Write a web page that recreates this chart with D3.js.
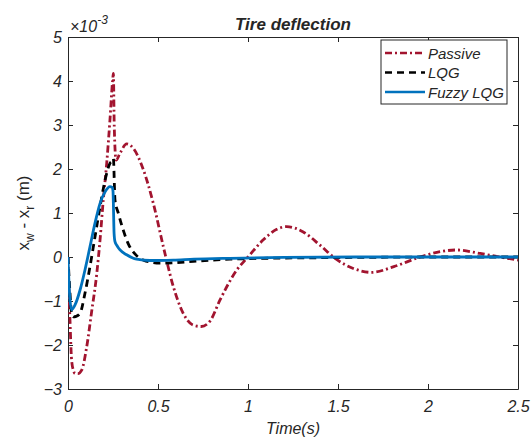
<!DOCTYPE html>
<html>
<head>
<meta charset="utf-8">
<script src="https://cdn.jsdelivr.net/npm/d3@7"></script>
<style>
  body { margin: 0; background: #fff; }
  text { font-family: "Liberation Sans", Arial, sans-serif; fill: #262626; }
</style>
</head>
<body>
<script>
// time axis (s) and deflection values (x 1e-3 m)
var passiveT = [0, 0.005, 0.011, 0.02, 0.03, 0.04, 0.055, 0.076, 0.104, 0.13, 0.16, 0.178, 0.196, 0.215, 0.233, 0.248, 0.252, 0.257, 0.267, 0.289, 0.326, 0.363, 0.419, 0.474, 0.53, 0.585, 0.64, 0.696, 0.74, 0.79, 0.844, 0.937, 1.0, 1.085, 1.16, 1.215, 1.307, 1.4, 1.49, 1.585, 1.687, 1.81, 1.956, 2.067, 2.159, 2.29, 2.4, 2.5];
var passiveV = [0, -0.7, -1.43, -2.34, -2.58, -2.65, -2.65, -2.57, -2.04, -1.28, -0.37, 0.39, 1.3, 2.13, 3.11, 4.02, 4.17, 2.96, 2.2, 2.36, 2.57, 2.47, 1.98, 1.22, 0.23, -0.67, -1.28, -1.55, -1.58, -1.45, -0.98, -0.3, 0, 0.39, 0.63, 0.69, 0.57, 0.27, -0.05, -0.26, -0.35, -0.22, 0, 0.12, 0.16, 0.08, 0, -0.07];

var lqgT = [0, 0.01, 0.02, 0.03, 0.045, 0.067, 0.094, 0.122, 0.15, 0.178, 0.206, 0.233, 0.248, 0.252, 0.261, 0.28, 0.307, 0.335, 0.372, 0.419, 0.511, 0.585, 0.696, 0.8, 0.9, 1.085, 1.3, 1.6, 2.0, 2.5];
var lqgV = [0, -0.75, -1.28, -1.36, -1.35, -1.28, -0.83, -0.22, 0.46, 1.14, 1.75, 2.13, 2.2, 2.24, 1.3, 0.99, 0.61, 0.3, 0.07, -0.07, -0.14, -0.13, -0.1, -0.07, -0.05, -0.03, -0.02, -0.01, 0, 0];

var fuzzyT = [0, 0.008, 0.02, 0.039, 0.067, 0.094, 0.122, 0.15, 0.178, 0.206, 0.233, 0.246, 0.25, 0.256, 0.261, 0.275, 0.289, 0.326, 0.381, 0.456, 0.585, 0.7, 0.9, 1.2, 1.6, 2.0, 2.5];
var fuzzyV = [0, -0.8, -1.2, -1.09, -0.75, -0.3, 0.23, 0.77, 1.22, 1.48, 1.6, 1.58, 1.5, 0.54, 0.35, 0.24, 0.16, 0.05, -0.05, -0.08, -0.07, -0.05, -0.03, -0.01, 0, 0, 0];

var xTicks = [0, 0.5, 1, 1.5, 2, 2.5];
var yTicks = [-3, -2, -1, 0, 1, 2, 3, 4, 5];
var seriesNames = ["Passive", "LQG", "Fuzzy LQG"];

drawChart();

function drawChart(){

	var width = 531,
		height = 442;
	var mLeft = 68, mRight = 518, mTop = 37, mBottom = 389;

	var svg = d3.select("body")
		.append("svg")
		.attr("width", width)
		.attr("height", height);

	svg.append("rect").attr("width", width).attr("height", height).attr("fill", "#fff");

	var x = d3.scaleLinear().domain([0, 2.5]).range([mLeft, mRight]);
	var y = d3.scaleLinear().domain([-3, 5]).range([mBottom, mTop]);

	//clip for the curves
	svg.append("clipPath").attr("id", "clip")
		.append("rect")
		.attr("x", mLeft).attr("y", mTop)
		.attr("width", mRight - mLeft).attr("height", mBottom - mTop);

	//axes with inward ticks, MATLAB style
	var tickLen = 5;
	svg.append("g")
		.attr("transform", "translate(0," + mBottom + ")")
		.call(d3.axisBottom(x).tickValues(xTicks).tickSizeInner(-tickLen).tickSizeOuter(0).tickPadding(12).tickFormat(d3.format("")))
		.call(styleAxis);
	svg.append("g")
		.attr("transform", "translate(0," + mTop + ")")
		.call(d3.axisTop(x).tickValues(xTicks).tickSizeInner(-tickLen).tickSizeOuter(0).tickFormat(""))
		.call(styleAxis);
	svg.append("g")
		.attr("transform", "translate(" + mLeft + ",0)")
		.call(d3.axisLeft(y).tickValues(yTicks).tickSizeInner(-tickLen).tickSizeOuter(0).tickPadding(6))
		.call(styleAxis);
	svg.append("g")
		.attr("transform", "translate(" + mRight + ",0)")
		.call(d3.axisRight(y).tickValues(yTicks).tickSizeInner(-tickLen).tickSizeOuter(0).tickFormat(""))
		.call(styleAxis);

	function styleAxis(g){
		g.select(".domain").attr("stroke", "#262626").attr("stroke-width", 1);
		g.selectAll(".tick line").attr("stroke", "#262626");
		g.selectAll(".tick text")
			.attr("font-size", 16)
			.attr("font-style", "italic")
			.attr("fill", "#262626");
	}

	//curves
	var line = d3.line()
		.x(function(d){ return x(d[0]); })
		.y(function(d){ return y(d[1]); })
		.curve(d3.curveMonotoneX);

	var series = [
		{ name: seriesNames[0], data: d3.zip(passiveT, passiveV), color: "#A2142F", dash: "7,3,2,3" },
		{ name: seriesNames[1], data: d3.zip(lqgT, lqgV), color: "#000000", dash: "7,5" },
		{ name: seriesNames[2], data: d3.zip(fuzzyT, fuzzyV), color: "#0072BD", dash: null }
	];

	svg.append("g")
		.attr("clip-path", "url(#clip)")
		.selectAll("path")
		.data(series)
		.enter()
		.append("path")
		.attr("d", function(d){ return line(d.data); })
		.attr("fill", "none")
		.attr("stroke", function(d){ return d.color; })
		.attr("stroke-width", 2.8)
		.attr("stroke-dasharray", function(d){ return d.dash; });

	//title and labels
	svg.append("text")
		.attr("x", (mLeft + mRight) / 2).attr("y", 30)
		.attr("text-anchor", "middle")
		.attr("font-size", 17).attr("font-weight", "bold").attr("font-style", "italic")
		.attr("fill", "#000")
		.text("Tire deflection");

	var exp = svg.append("text")
		.attr("x", 70).attr("y", 32)
		.attr("font-size", 16).attr("font-style", "italic");
	exp.append("tspan").text("\u00d710");
	exp.append("tspan").attr("dy", -8).attr("font-size", 12).text("-3");

	svg.append("text")
		.attr("x", (mLeft + mRight) / 2).attr("y", 434)
		.attr("text-anchor", "middle")
		.attr("font-size", 16).attr("font-style", "italic")
		.text("Time(s)");

	var yl = svg.append("text")
		.attr("transform", "translate(29," + ((mTop + mBottom) / 2) + ") rotate(-90)")
		.attr("text-anchor", "middle")
		.attr("font-size", 17);
	yl.append("tspan").text("x");
	yl.append("tspan").attr("dy", 5).attr("font-size", 12).text("w");
	yl.append("tspan").attr("dy", -5).text(" - x");
	yl.append("tspan").attr("dy", 5).attr("font-size", 12).text("r");
	yl.append("tspan").attr("dy", -5).text(" (m)");

	//legend
	var legend = svg.append("g").attr("transform", "translate(381,40)");
	legend.append("rect")
		.attr("width", 126).attr("height", 64)
		.attr("fill", "#fff").attr("stroke", "#262626").attr("stroke-width", 1);
	var items = legend.selectAll(".item")
		.data(series)
		.enter()
		.append("g")
		.attr("class", "item")
		.attr("transform", function(d, i){ return "translate(0," + (13 + i * 19.5) + ")"; });
	items.append("line")
		.attr("x1", 4).attr("x2", 44)
		.attr("stroke", function(d){ return d.color; })
		.attr("stroke-width", 2.6)
		.attr("stroke-dasharray", function(d){ return d.dash; });
	items.append("text")
		.attr("x", 47).attr("y", 5.5)
		.attr("font-size", 15).attr("font-style", "italic")
		.attr("fill", "#000")
		.text(function(d){ return d.name; });
};
</script>
</body>
</html>
